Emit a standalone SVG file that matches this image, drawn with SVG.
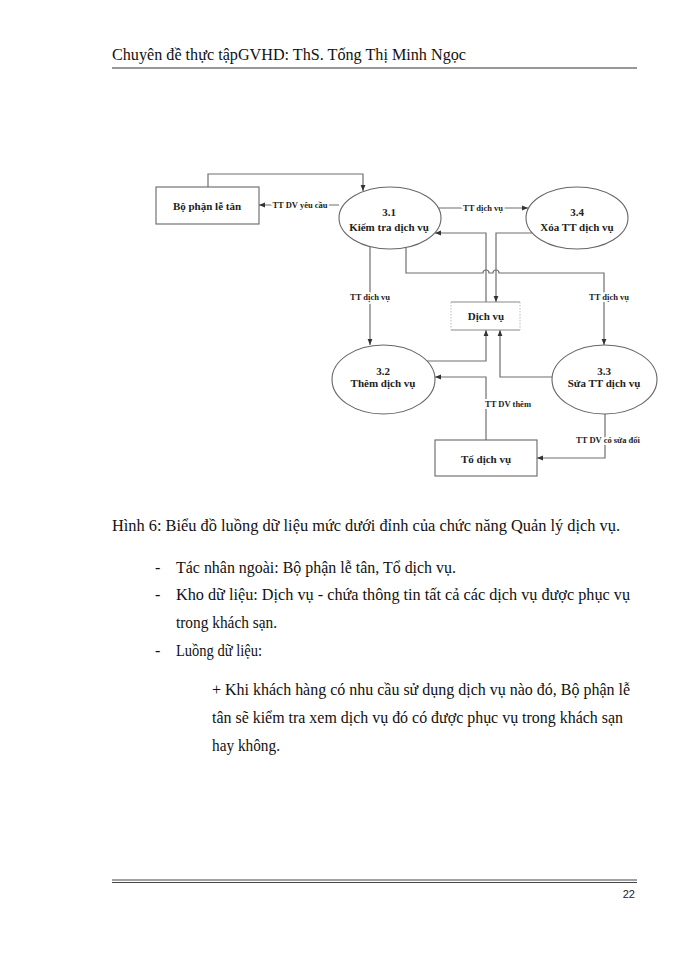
<svg xmlns="http://www.w3.org/2000/svg" width="700" height="960" viewBox="0 0 700 960">
<style>
  .pg { font-family: "Liberation Serif", "Times New Roman", serif; fill: #111; font-size: 16px; }
  .hd { font-family: "Liberation Serif", "Times New Roman", serif; fill: #111; font-size: 16.5px; }
  .nd { font-family: "Liberation Serif", "Times New Roman", serif; font-weight: bold; font-size: 11px; fill: #222; text-anchor: middle; }
  .lb { font-family: "Liberation Serif", "Times New Roman", serif; font-weight: bold; font-size: 8.5px; fill: #222; text-anchor: middle; stroke: #fff; stroke-width: 4px; paint-order: stroke; stroke-linejoin: round; }
  .sh { fill: #fff; stroke: #666; stroke-width: 1.1; }
  .ln { fill: none; stroke: #777; stroke-width: 1.1; }
  .ar { fill: none; stroke: #6f6f6f; stroke-width: 1.2; marker-end: url(#arr); }
</style>
<defs>
  <marker id="arr" viewBox="0 0 10 10" refX="10" refY="5" markerWidth="6" markerHeight="6" orient="auto" markerUnits="userSpaceOnUse">
    <path d="M0,1 L10,5 L0,9 z" fill="#333"/>
  </marker>
</defs>
<rect width="700" height="960" fill="#fff"/>

<!-- header -->
<text class="hd" x="112" y="60" textLength="354" lengthAdjust="spacingAndGlyphs">Chuyên đề thực tậpGVHD: ThS. Tống Thị Minh Ngọc</text>
<line x1="112" y1="68" x2="637" y2="68" stroke="#333" stroke-width="1.2"/>

<!-- connectors -->
<g id="connectors">
  <path class="ar" d="M208,187 V174 H363 V191"/>
  <path class="ar" d="M339,205 H259"/>
  <path class="ar" d="M439,208 H528"/>
  <path class="ar" d="M486,302 V233 H435"/>
  <path class="ar" d="M532,233 H496 V302"/>
  <path class="ar" d="M406,247 V273 H483 A3,3 0 0 1 489,273 H493 A3,3 0 0 1 499,273 H604 V345"/>
  <path class="ar" d="M370,246 V345"/>
  <path class="ar" d="M427,361 H486 V330"/>
  <path class="ar" d="M552,377 H500 V330"/>
  <path class="ar" d="M486,440 V377 H435"/>
  <path class="ar" d="M605,414 V458 H537"/>
  <text class="lb" x="300" y="208">TT DV yêu cầu</text>
  <text class="lb" x="483" y="211">TT dịch vụ</text>
  <text class="lb" x="370" y="300">TT dịch vụ</text>
  <text class="lb" x="609" y="300">TT dịch vụ</text>
  <text class="lb" x="508" y="407">TT DV thêm</text>
  <text class="lb" x="608" y="443">TT DV có sửa đổi</text>
</g>

<g id="bo-phan-le-tan">
  <rect class="sh" x="156" y="187" width="103" height="37"/>
  <text class="nd" x="207" y="210">Bộ phận lễ tân</text>
</g>
<g id="p31">
  <ellipse class="sh" cx="390" cy="218" rx="51" ry="31"/>
  <text class="nd" x="389" y="216">3.1</text>
  <text class="nd" x="389" y="231">Kiểm tra dịch vụ</text>
</g>
<g id="p34">
  <ellipse class="sh" cx="577" cy="218" rx="51" ry="31"/>
  <text class="nd" x="577" y="216">3.4</text>
  <text class="nd" x="577" y="231">Xóa TT dịch vụ</text>
</g>
<g id="store-dich-vu">
  <rect x="451" y="302" width="69" height="28" fill="#fff"/>
  <line x1="451" y1="302" x2="520" y2="302" stroke="#888" stroke-width="1"/>
  <line x1="451" y1="330" x2="520" y2="330" stroke="#888" stroke-width="1"/>
  <line x1="451" y1="302" x2="451" y2="330" stroke="#bbb" stroke-width="1" stroke-dasharray="1.5,1.5"/>
  <line x1="520" y1="302" x2="520" y2="330" stroke="#bbb" stroke-width="1" stroke-dasharray="1.5,1.5"/>
  <text class="nd" x="486" y="320">Dịch vụ</text>
</g>
<g id="p32">
  <ellipse class="sh" cx="383.5" cy="379.5" rx="51.5" ry="34.5"/>
  <text class="nd" x="383" y="375">3.2</text>
  <text class="nd" x="383" y="387">Thêm dịch vụ</text>
</g>
<g id="p33">
  <ellipse class="sh" cx="604.5" cy="379.5" rx="52.5" ry="34.5"/>
  <text class="nd" x="604" y="375">3.3</text>
  <text class="nd" x="604" y="387">Sửa TT dịch vụ</text>
</g>
<g id="to-dich-vu">
  <rect class="sh" x="435" y="440" width="102" height="36"/>
  <text class="nd" x="486" y="463">Tổ dịch vụ</text>
</g>

<!-- body text -->
<text class="pg" x="112" y="531" textLength="508" lengthAdjust="spacingAndGlyphs">Hình 6: Biểu  đồ luồng dữ liệu  mức dưới đỉnh của chức năng Quản lý dịch vụ.</text>
<text class="pg" x="155" y="573">-</text>
<text class="pg" x="176" y="573" textLength="280" lengthAdjust="spacingAndGlyphs">Tác nhân ngoài: Bộ phận lễ tân, Tổ dịch vụ.</text>
<text class="pg" x="155" y="600">-</text>
<text class="pg" x="176" y="600" textLength="454" lengthAdjust="spacingAndGlyphs">Kho dữ liệu:  Dịch vụ - chứa thông tin tất cả các dịch vụ được phục vụ</text>
<text class="pg" x="176" y="628" textLength="101" lengthAdjust="spacingAndGlyphs">trong khách sạn.</text>
<text class="pg" x="155" y="656">-</text>
<text class="pg" x="176" y="656" textLength="86" lengthAdjust="spacingAndGlyphs">Luồng dữ liệu:</text>
<text class="pg" x="212" y="695" textLength="418" lengthAdjust="spacingAndGlyphs">+ Khi khách hàng có nhu cầu sử dụng dịch vụ nào đó, Bộ phận lễ</text>
<text class="pg" x="212" y="723" textLength="411" lengthAdjust="spacingAndGlyphs">tân sẽ kiểm tra xem dịch vụ đó có được phục vụ trong khách sạn</text>
<text class="pg" x="212" y="751" textLength="68" lengthAdjust="spacingAndGlyphs">hay không.</text>

<!-- footer -->
<line x1="112" y1="880" x2="637" y2="880" stroke="#444" stroke-width="1"/>
<line x1="112" y1="882.5" x2="637" y2="882.5" stroke="#444" stroke-width="1"/>
<text x="635" y="898" text-anchor="end" font-family="Liberation Sans, Arial, sans-serif" font-size="11" fill="#222">22</text>
</svg>
